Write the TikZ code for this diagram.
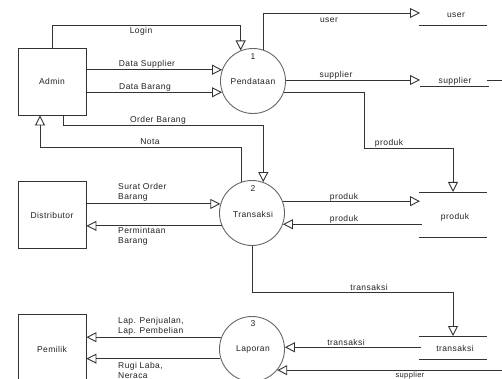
\documentclass[tikz,border=0pt]{standalone}
\usepackage{fontspec}
\setmainfont{Liberation Sans}[LetterSpace=5]
\usetikzlibrary{arrows.meta}
\definecolor{ln}{HTML}{333333}
\definecolor{cl}{HTML}{666666}
\definecolor{tx}{HTML}{222222}
\begin{document}
\begin{tikzpicture}[x=1pt,y=-1pt,
  font=\fontsize{8.5}{10}\selectfont, text=tx,
  flow/.style={draw=ln, line width=0.9pt, -{Triangle[open,length=10pt,width=10pt]}},
  plain/.style={draw=ln, line width=0.9pt},
  ent/.style={draw=ln, line width=0.9pt, rectangle, minimum width=68pt, minimum height=67pt, inner sep=0pt},
  proc/.style={draw=cl, line width=0.9pt, circle, minimum size=65pt, inner sep=0pt},
  lbl/.style={inner sep=0pt},
  ml/.style={inner sep=0pt, align=left, anchor=west}]
\clip (0,0) rectangle (502,379);
\fill[white] (0,0) rectangle (502,379);

% entities
\node[ent] (admin) at (52,81.5) {Admin};
\node[ent] (dist) at (52,215) {Distributor};
\node[ent, minimum height=70pt] (pem) at (52,349) {Pemilik};

% processes
\node[proc] (p1) at (253,81) {};
\node[proc] (p2) at (252,213) {};
\node[proc] (p3) at (252,349) {};
\node[lbl] (n1) at (253,57) {1};
\node[lbl] (t1) at (253,81) {Pendataan};
\node[lbl] (n2) at (253,189) {2};
\node[lbl] (t2) at (253,214) {Transaksi};
\node[lbl] (n3) at (253,324) {3};
\node[lbl] (t3) at (253,349) {Laporan};

% data stores
\coordinate (suL) at (419,25); \coordinate (suR) at (487,25);
\draw[plain] (suL) -- (suR);
\node[lbl] (su) at (456,15) {user};
\coordinate (spL) at (420,86); \coordinate (spR) at (489,86);
\draw[plain] (spL) -- (spR);
\node[lbl] (sp) at (455,81) {supplier};
\coordinate (pdL) at (419,192); \coordinate (pdR) at (487,192);
\coordinate (pdL2) at (419,237); \coordinate (pdR2) at (487,237);
\draw[plain] (pdL) -- (pdR);
\draw[plain] (pdL2) -- (pdR2);
\node[lbl] (pd) at (455,217) {produk};
\coordinate (trL) at (419,336); \coordinate (trR) at (487,336);
\coordinate (trL2) at (419,359); \coordinate (trR2) at (487,359);
\draw[plain] (trL) -- (trR);
\draw[plain] (trL2) -- (trR2);
\node[lbl] (tr) at (455,348) {transaksi};

% helper coordinates
\coordinate (lgtop) at (0,25);
\coordinate (ob) at (63,125);
\coordinate (nt) at (40,147);
\coordinate (usend) at (420,13);
\coordinate (spend) at (420,80);
\coordinate (spout) at (487,80);
\coordinate (pk1) at (364,148);
\coordinate (pktop) at (453,192);
\coordinate (pdin) at (420,0);
\coordinate (pdout) at (422,0);
\coordinate (trbend) at (453,292);
\coordinate (trtop) at (453,336);
\coordinate (trout) at (421,0);

% flows around Admin
\draw[flow] (admin.north) -- (admin.north |- lgtop) -| (p1.112);
\draw[flow] (admin.east |- p1.160) -- (p1.160);
\draw[flow] (admin.east |- p1.200) -- (p1.200);
\draw[flow] (admin.south -| ob) -- (ob) -| (p2.70.5);
\draw[flow] (p2.109.5) |- (nt) -- (admin.south -| nt);

% from process 1
\draw[flow] (p1.72) |- (usend);
\draw[flow] (p1.0 |- spend) -- (spend);
\draw[flow] (p1.340) -| (pk1) -| (pktop);
\draw[flow] (spout) -- ++(30,0) |- (p3.320.5);

% process 2
\draw[flow] (dist.east |- p2.164) -- (p2.164);
\draw[flow] (p2.203) -- (dist.east |- p2.203);
\draw[flow] (p2.21) -- (pdin |- p2.21);
\draw[flow] (pdout |- p2.340.5) -- (p2.340.5);
\draw[flow] (p2.south) |- (trbend) -- (trtop);

% process 3
\draw[flow] (trout |- p3.3.5) -- (p3.3.5);
\draw[flow] (p3.159) -- (pem.east |- p3.159);
\draw[flow] (p3.197.5) -- (pem.east |- p3.197.5);

% labels
\node[lbl] (lLogin) at (141,31) {Login};
\node[lbl] (lDS) at (147,64) {Data Supplier};
\node[lbl] (lDB) at (145,87) {Data Barang};
\node[lbl] (lOB) at (158,120) {Order Barang};
\node[lbl] (lNota) at (150,142) {Nota};
\node[ml] (lSO) at (118,192) {Surat Order\\Barang};
\node[ml] (lPB) at (118,236) {Permintaan\\Barang};
\node[lbl] (lUser) at (329,20) {user};
\node[lbl] (lSup) at (336,75) {supplier};
\node[lbl] (lPk1) at (389,143) {produk};
\node[lbl] (lPk2) at (344,197) {produk};
\node[lbl] (lPk3) at (344,219) {produk};
\node[lbl] (lTr1) at (369,287) {transaksi};
\node[lbl] (lTr2) at (346,342) {transaksi};
\node[ml] (lLap) at (118,326.5) {Lap. Penjualan,\\Lap. Pembelian};
\node[ml] (lRugi) at (118,370) {Rugi Laba,\\Neraca};
\node[lbl, anchor=base, font=\fontsize{7.5}{9}\selectfont] (lSup2) at (410,377) {supplier};
\end{tikzpicture}
\end{document}
